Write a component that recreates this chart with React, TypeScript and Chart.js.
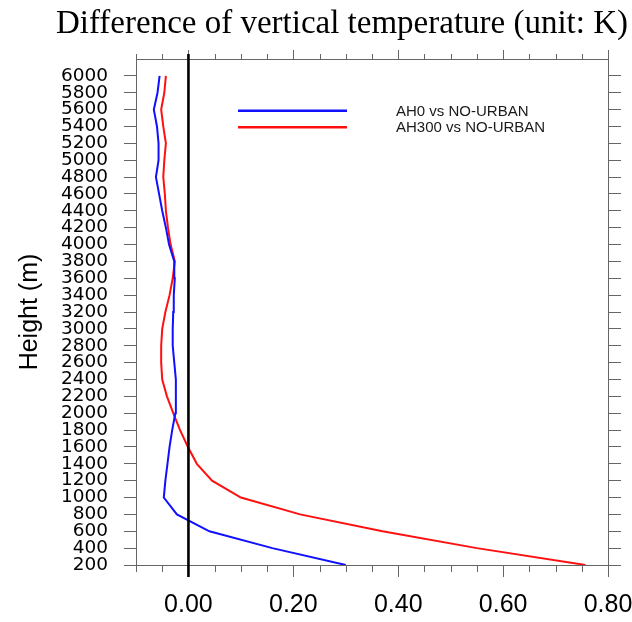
import React, { useEffect, useRef } from 'react';
import { Chart, registerables } from 'chart.js';

Chart.register(...registerables);

// ---------- data ----------
const heights = [
  200, 400, 600, 800, 1000, 1200, 1400, 1600, 1800, 2000,
  2200, 2400, 2600, 2800, 3000, 3200, 3400, 3600, 3800, 4000,
  4200, 4400, 4600, 4800, 5000, 5200, 5400, 5600, 5800, 6000,
];

const ah0VsNoUrban = [
  0.300, 0.160, 0.040, -0.022, -0.047, -0.044, -0.040, -0.036, -0.031, -0.025,
  -0.024, -0.024, -0.027, -0.030, -0.030, -0.029, -0.028, -0.026, -0.027, -0.037,
  -0.043, -0.050, -0.056, -0.062, -0.057, -0.057, -0.060, -0.066, -0.059, -0.055,
];

const ah300VsNoUrban = [
  0.757, 0.550, 0.370, 0.213, 0.100, 0.045, 0.016, -0.001, -0.016, -0.029,
  -0.041, -0.050, -0.052, -0.052, -0.050, -0.044, -0.036, -0.030, -0.026, -0.034,
  -0.039, -0.043, -0.045, -0.048, -0.046, -0.043, -0.048, -0.052, -0.046, -0.043,
];

const seriesLabels = ['AH0 vs NO-URBAN', 'AH300 vs NO-URBAN'];
const seriesColors = ['#1010ff', '#ff1010'];

const yTickValues = heights;
const xTickValues = [0, 0.2, 0.4, 0.6, 0.8];
const xMinorTickValues = [
  -0.1, -0.05, 0.05, 0.1, 0.15, 0.25, 0.3, 0.35, 0.45, 0.5, 0.55, 0.65, 0.7, 0.75,
];

const titleText = 'Difference of vertical temperature (unit: K)';
const yAxisTitle = 'Height (m)';

const X_MIN = -0.1;
const X_MAX = 0.8;
const Y_MIN = 200;
const Y_MAX = 6200;

// ---------- plugins ----------
const minorTicksPlugin = {
  id: 'minorTicks',
  afterDraw(chart: any) {
    const { ctx, chartArea, scales } = chart;
    const sx = scales.x;
    ctx.save();
    ctx.strokeStyle = '#666';
    ctx.lineWidth = 1;
    xMinorTickValues.forEach((v) => {
      const px = Math.round(sx.getPixelForValue(v)) + 0.5;
      ctx.beginPath();
      ctx.moveTo(px, chartArea.bottom);
      ctx.lineTo(px, chartArea.bottom + 7);
      ctx.moveTo(px, chartArea.top);
      ctx.lineTo(px, chartArea.top - 5);
      ctx.stroke();
    });
    ctx.restore();
  },
};

const zeroLinePlugin = {
  id: 'zeroLine',
  afterDatasetsDraw(chart: any) {
    const { ctx, chartArea, scales } = chart;
    const px = scales.x.getPixelForValue(0);
    ctx.save();
    ctx.strokeStyle = '#000';
    ctx.lineWidth = 2.6;
    ctx.beginPath();
    ctx.moveTo(px, chartArea.top - 5);
    ctx.lineTo(px, chartArea.bottom + 12);
    ctx.stroke();
    ctx.restore();
  },
};

const insetLegendPlugin = {
  id: 'insetLegend',
  afterDatasetsDraw(chart: any) {
    const { ctx, chartArea } = chart;
    ctx.save();
    chart.data.datasets.forEach((ds: any, i: number) => {
      const y = chartArea.top + 51.7 + i * 16.5;
      ctx.strokeStyle = ds.borderColor;
      ctx.lineWidth = 2.6;
      ctx.beginPath();
      ctx.moveTo(chartArea.left + 102, y);
      ctx.lineTo(chartArea.left + 211, y);
      ctx.stroke();
      ctx.fillStyle = '#1a1a1a';
      ctx.font = '15px "Liberation Sans", Arial, sans-serif';
      ctx.textBaseline = 'middle';
      ctx.textAlign = 'left';
      ctx.fillText(ds.label, chartArea.left + 260, y + 1);
    });
    ctx.restore();
  },
};

const zeroPadding = (s: any) => {
  s.paddingLeft = 0;
  s.paddingRight = 0;
  s.paddingTop = 0;
  s.paddingBottom = 0;
};

export default function App() {
  const canvasRef = useRef<HTMLCanvasElement | null>(null);

  useEffect(() => {
    const canvas = canvasRef.current;
    if (!canvas) return;

    const datasets = [ah0VsNoUrban, ah300VsNoUrban].map((vals, i) => ({
      label: seriesLabels[i],
      data: heights.map((h, j) => ({ x: vals[j], y: h })),
      borderColor: seriesColors[i],
      backgroundColor: seriesColors[i],
      borderWidth: 2,
      pointRadius: 0,
      showLine: true,
      tension: 0,
      fill: false,
    }));

    const gridCommon = {
      drawOnChartArea: false,
      drawTicks: true,
      color: '#666',
      lineWidth: 1,
    };
    const borderCommon = { display: true, color: '#666', width: 1 };

    const chart = new Chart(canvas, {
      type: 'scatter',
      data: { datasets },
      plugins: [minorTicksPlugin, zeroLinePlugin, insetLegendPlugin],
      options: {
        responsive: false,
        animation: false,
        devicePixelRatio: 1,
        layout: { padding: { left: 0, right: 4, top: 0, bottom: 0 } },
        plugins: {
          legend: { display: false },
          tooltip: { enabled: false },
          title: {
            display: true,
            text: titleText,
            align: 'end',
            color: '#000',
            font: { family: '"Liberation Serif", "Times New Roman", serif', size: 33, weight: 'normal' },
            padding: { top: 5, bottom: 0 },
          },
        },
        scales: {
          x: {
            type: 'linear',
            position: 'bottom',
            min: X_MIN,
            max: X_MAX,
            afterBuildTicks: (s: any) => {
              s.ticks = xTickValues.map((v) => ({ value: v }));
            },
            afterFit: (s: any) => {
              s.height = 57;
              zeroPadding(s);
            },
            ticks: {
              callback: (v: any) => Number(v).toFixed(2),
              font: { family: '"Liberation Sans", Arial, sans-serif', size: 25 },
              color: '#000',
              padding: 13,
              maxRotation: 0,
              autoSkip: false,
            },
            grid: { ...gridCommon, tickLength: 12 },
            border: borderCommon,
          },
          x2: {
            type: 'linear',
            position: 'top',
            min: X_MIN,
            max: X_MAX,
            afterBuildTicks: (s: any) => {
              s.ticks = xTickValues.map((v) => ({ value: v }));
            },
            afterFit: (s: any) => {
              s.height = 14.4;
              zeroPadding(s);
            },
            ticks: { display: false },
            grid: { ...gridCommon, tickLength: 9 },
            border: borderCommon,
          },
          y: {
            type: 'linear',
            position: 'left',
            min: Y_MIN,
            max: Y_MAX,
            afterBuildTicks: (s: any) => {
              s.ticks = yTickValues.map((v) => ({ value: v }));
            },
            afterFit: (s: any) => {
              s.width = 136;
              zeroPadding(s);
            },
            ticks: {
              callback: (v: any) => String(v),
              font: { family: '"DejaVu Sans", sans-serif', size: 18.5 },
              color: '#000',
              padding: 16,
              autoSkip: false,
            },
            grid: { ...gridCommon, tickLength: 12 },
            border: borderCommon,
            title: {
              display: true,
              text: yAxisTitle,
              color: '#000',
              font: { family: '"Liberation Sans", Arial, sans-serif', size: 25 },
              padding: { top: 15, bottom: 0 },
            },
          },
          y2: {
            type: 'linear',
            position: 'right',
            min: Y_MIN,
            max: Y_MAX,
            afterBuildTicks: (s: any) => {
              s.ticks = yTickValues.map((v) => ({ value: v }));
            },
            afterFit: (s: any) => {
              s.width = 20;
              zeroPadding(s);
            },
            ticks: { display: false },
            grid: { ...gridCommon, tickLength: 13 },
            border: borderCommon,
          },
        },
      },
    } as any);

    return () => chart.destroy();
  }, []);

  return (
    <div style={{ position: 'absolute', left: 0, top: 0, width: 632, height: 622 }}>
      <canvas ref={canvasRef} width={632} height={622} style={{ display: 'block' }} />
    </div>
  );
}
